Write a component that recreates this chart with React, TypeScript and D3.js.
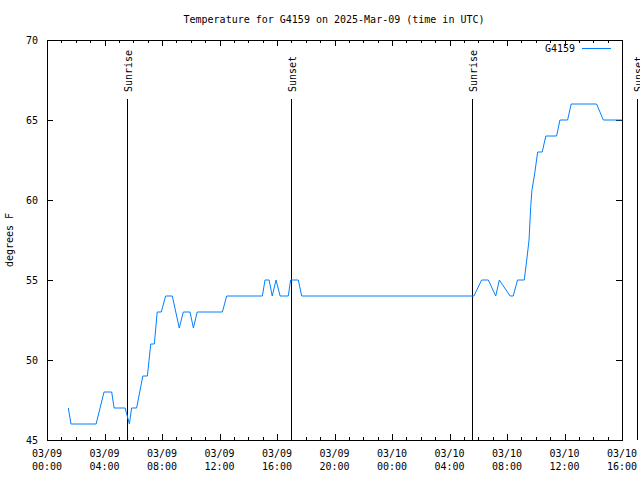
import React from "react";
import * as d3 from "d3";

const title = "Temperature for G4159 on 2025-Mar-09 (time in UTC)";
const seriesName = "G4159";
const yLabel = "degrees F";

const times = [
  "2025-03-09T01:29", "2025-03-09T01:40", "2025-03-09T03:25", "2025-03-09T03:58",
  "2025-03-09T04:30", "2025-03-09T04:40", "2025-03-09T05:26", "2025-03-09T05:44",
  "2025-03-09T05:53", "2025-03-09T06:14", "2025-03-09T06:40", "2025-03-09T06:59",
  "2025-03-09T07:13", "2025-03-09T07:28", "2025-03-09T07:40", "2025-03-09T07:57",
  "2025-03-09T08:15", "2025-03-09T08:43", "2025-03-09T09:12", "2025-03-09T09:29",
  "2025-03-09T09:57", "2025-03-09T10:11", "2025-03-09T10:27", "2025-03-09T12:12",
  "2025-03-09T12:30", "2025-03-09T14:59", "2025-03-09T15:10", "2025-03-09T15:27",
  "2025-03-09T15:40", "2025-03-09T15:56", "2025-03-09T16:13", "2025-03-09T16:47",
  "2025-03-09T16:57", "2025-03-09T17:29", "2025-03-09T17:43", "2025-03-10T05:42",
  "2025-03-10T06:14", "2025-03-10T06:42", "2025-03-10T07:13", "2025-03-10T07:28",
  "2025-03-10T08:13", "2025-03-10T08:26", "2025-03-10T08:44", "2025-03-10T09:12",
  "2025-03-10T09:22", "2025-03-10T09:32", "2025-03-10T09:39", "2025-03-10T09:44",
  "2025-03-10T09:56", "2025-03-10T10:08", "2025-03-10T10:27", "2025-03-10T10:42",
  "2025-03-10T11:27", "2025-03-10T11:41", "2025-03-10T12:13", "2025-03-10T12:28",
  "2025-03-10T14:14", "2025-03-10T14:42", "2025-03-10T16:00",
];
const temps = [
  47, 46, 46, 48,
  48, 47, 47, 46,
  47, 47, 49, 49,
  51, 51, 53, 53,
  54, 54, 52, 53,
  53, 52, 53, 53,
  54, 54, 55, 55,
  54, 55, 54, 54,
  55, 55, 54, 54,
  55, 55, 54, 55,
  54, 54, 55, 55,
  56.2, 57.5, 59.6, 60.6,
  61.7, 63, 63, 64,
  64, 65, 65, 66,
  66, 65, 65,
];

const eventTimes = ["2025-03-09T05:34", "2025-03-09T16:58", "2025-03-10T05:32", "2025-03-10T17:03"];
const eventLabels = ["Sunrise", "Sunset", "Sunrise", "Sunset"];

const xDomain = ["2025-03-09T00:00", "2025-03-10T16:00"];
const yTicks = [45, 50, 55, 60, 65, 70];

const parse = d3.utcParse("%Y-%m-%dT%H:%M");
const fmtDate = d3.utcFormat("%m/%d");
const fmtTime = d3.utcFormat("%H:%M");

const W = 640, H = 480;
const L = 47, R = 622, T = 40, B = 440;
const FONT = "'DejaVu Sans Mono', monospace";

export default function App() {
  const x = d3.scaleUtc().domain(xDomain.map((s) => parse(s) as Date)).range([L, R]);
  const y = d3.scaleLinear().domain([45, 70]).range([B, T]);

  const data = times.map((t, i) => ({ t: parse(t) as Date, v: temps[i] }));
  const line = d3
    .line<{ t: Date; v: number }>()
    .x((d) => x(d.t))
    .y((d) => y(d.v));

  const majorX = x.ticks(d3.utcHour.every(4) as any);
  const minorX = x.ticks(d3.utcHour.every(1) as any).filter((d) => d.getUTCHours() % 4 !== 0);

  return (
    <svg width={W} height={H} style={{ position: "absolute", left: 0, top: 0, background: "#fff" }} fontFamily={FONT} fontSize={10}>
      <rect x={0} y={0} width={W} height={H} fill="#fff" />
      <text x={334} y={23} textAnchor="middle" fill="#000">{title}</text>

      {/* y ticks */}
      {yTicks.map((v) => (
        <g key={"y" + v}>
          <line x1={L} x2={L + 6} y1={Math.round(y(v)) + 0.5} y2={Math.round(y(v)) + 0.5} stroke="#000" shapeRendering="crispEdges" />
          <line x1={R - 6} x2={R} y1={Math.round(y(v)) + 0.5} y2={Math.round(y(v)) + 0.5} stroke="#000" shapeRendering="crispEdges" />
          <text x={L - 9} y={y(v) + 4} textAnchor="end" fill="#000">{v}</text>
        </g>
      ))}

      {/* x ticks */}
      {majorX.map((d, i) => {
        const px = Math.round(x(d)) + 0.5;
        return (
          <g key={"mx" + i}>
            <line x1={px} x2={px} y1={B} y2={B - 6} stroke="#000" shapeRendering="crispEdges" />
            <line x1={px} x2={px} y1={T} y2={T + 6} stroke="#000" shapeRendering="crispEdges" />
            <text x={x(d)} y={457} textAnchor="middle" fill="#000">{fmtDate(d)}</text>
            <text x={x(d)} y={470} textAnchor="middle" fill="#000">{fmtTime(d)}</text>
          </g>
        );
      })}
      {minorX.map((d, i) => {
        const px = Math.round(x(d)) + 0.5;
        return (
          <g key={"nx" + i}>
            <line x1={px} x2={px} y1={B} y2={B - 3} stroke="#000" shapeRendering="crispEdges" />
            <line x1={px} x2={px} y1={T} y2={T + 3} stroke="#000" shapeRendering="crispEdges" />
          </g>
        );
      })}

      <text transform={`translate(13,${(T + B) / 2}) rotate(-90)`} textAnchor="middle" fill="#000">{yLabel}</text>

      {/* events */}
      {eventTimes.map((s, i) => {
        const px = Math.round(x(parse(s) as Date)) + 0.5;
        return (
          <g key={"ev" + i}>
            <line x1={px} x2={px} y1={99} y2={B} stroke="#000" shapeRendering="crispEdges" />
            <text transform={`translate(${px + 4},92) rotate(-90)`} textAnchor="start" fill="#000">{eventLabels[i]}</text>
          </g>
        );
      })}

      {/* data */}
      <path d={line(data) || ""} fill="none" stroke="#0080ff" strokeWidth={1} />

      {/* legend */}
      <text x={575} y={52} textAnchor="end" fill="#000">{seriesName}</text>
      <line x1={582} x2={611} y1={48.5} y2={48.5} stroke="#0080ff" shapeRendering="crispEdges" />

      {/* frame */}
      <rect x={L + 0.5} y={T + 0.5} width={R - L} height={B - T} fill="none" stroke="#000" shapeRendering="crispEdges" />
    </svg>
  );
}
